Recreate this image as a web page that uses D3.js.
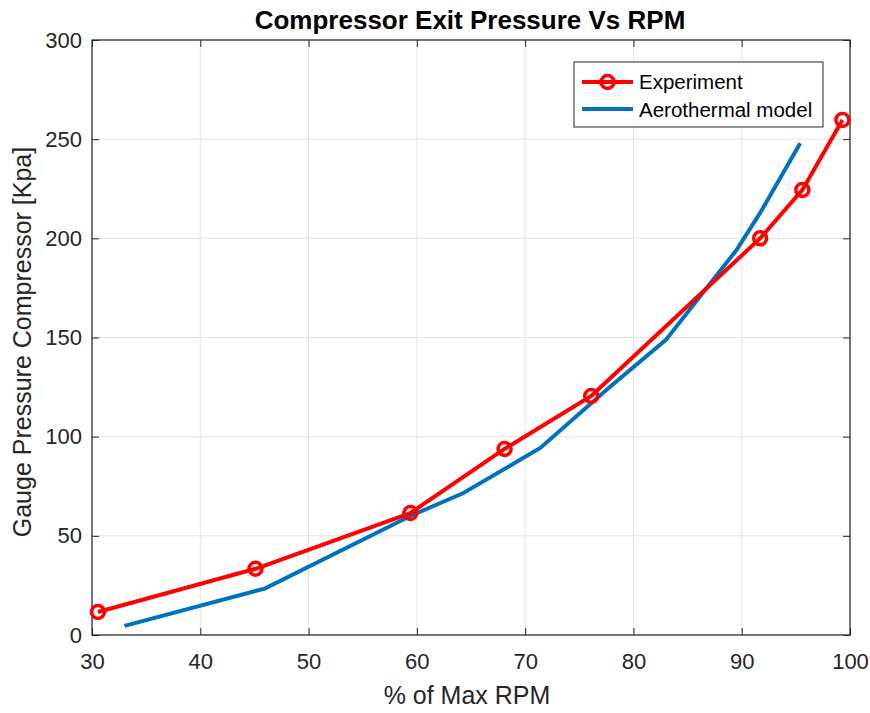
<!DOCTYPE html>
<html>
<head>
<meta charset="utf-8">
<script src="https://cdn.jsdelivr.net/npm/d3@7"></script>
<style>
body { margin: 0; background: #fff; }
text { font-family: "Liberation Sans", Arial, sans-serif; }
</style>
</head>
<body>
<div id="chart"></div>
<script>
// experiment points
const expRpm = [30.55, 45.1, 59.4, 68.1, 76.1, 91.7, 95.6, 99.3];
const expKpa = [11.6, 33.4, 61.5, 93.8, 120.5, 200.0, 224.4, 259.7];
// aerothermal model
const modRpm = [33.0, 46.0, 59.4, 64.3, 71.4, 77.6, 83.0, 89.5, 91.7, 95.4];
const modKpa = [4.6, 23.5, 60.0, 71.6, 94.3, 124.0, 148.8, 194.0, 212.8, 248.0];

const xTicks = [30, 40, 50, 60, 70, 80, 90, 100];
const yTicks = [0, 50, 100, 150, 200, 250, 300];

const margin = {top: 40, left: 92};
const w = 758, h = 595;

const svg = d3.select("#chart").append("svg")
  .attr("width", 870).attr("height", 713);
const g = svg.append("g")
  .attr("transform", `translate(${margin.left},${margin.top})`);

const x = d3.scaleLinear().domain([30, 100]).range([0, w]);
const y = d3.scaleLinear().domain([0, 300]).range([h, 0]);

// grid
g.append("g").selectAll("line").data(xTicks).join("line")
  .attr("x1", d => x(d)).attr("x2", d => x(d))
  .attr("y1", 0).attr("y2", h)
  .attr("stroke", "#e3e3e3").attr("stroke-width", 1);
g.append("g").selectAll("line").data(yTicks).join("line")
  .attr("y1", d => y(d)).attr("y2", d => y(d))
  .attr("x1", 0).attr("x2", w)
  .attr("stroke", "#e3e3e3").attr("stroke-width", 1);

// axes, ticks inward
const axColor = "#262626";
function styleAxis(sel) {
  sel.select(".domain").remove();
  sel.selectAll(".tick line").attr("stroke", axColor);
  sel.selectAll(".tick text").attr("fill", axColor)
    .style("font-size", "22px");
}
g.append("g").attr("transform", `translate(0,${h})`)
  .call(d3.axisBottom(x).tickValues(xTicks).tickSizeInner(-7).tickPadding(18))
  .call(styleAxis);
g.append("g")
  .call(d3.axisLeft(y).tickValues(yTicks).tickSizeInner(-7).tickPadding(10))
  .call(styleAxis);
g.append("g")
  .call(d3.axisTop(x).tickValues(xTicks).tickSizeInner(-7).tickFormat(""))
  .call(styleAxis);
g.append("g").attr("transform", `translate(${w},0)`)
  .call(d3.axisRight(y).tickValues(yTicks).tickSizeInner(-7).tickFormat(""))
  .call(styleAxis);
g.append("rect").attr("width", w).attr("height", h)
  .attr("fill", "none").attr("stroke", axColor).attr("stroke-width", 1.2);

// lines
const expData = expRpm.map((r, i) => ({x: r, y: expKpa[i]}));
const modData = modRpm.map((r, i) => ({x: r, y: modKpa[i]}));
const line = d3.line().x(d => x(d.x)).y(d => y(d.y));

g.append("path").datum(modData)
  .attr("fill", "none").attr("stroke", "#0072BD").attr("stroke-width", 4)
  .attr("d", line);
g.append("path").datum(expData)
  .attr("fill", "none").attr("stroke", "#FF0000").attr("stroke-width", 4)
  .attr("stroke-linejoin", "round")
  .attr("d", line);
g.append("g").selectAll("circle").data(expData).join("circle")
  .attr("cx", d => x(d.x)).attr("cy", d => y(d.y)).attr("r", 6.5)
  .attr("fill", "none").attr("stroke", "#FF0000").attr("stroke-width", 3.5);

// title and labels
svg.append("text").attr("x", 470).attr("y", 29)
  .attr("text-anchor", "middle").attr("font-weight", "bold")
  .style("font-size", "26px").attr("fill", "#000")
  .text("Compressor Exit Pressure Vs RPM");
svg.append("text").attr("x", 467).attr("y", 704)
  .attr("text-anchor", "middle").style("font-size", "25px").attr("fill", axColor)
  .text("% of Max RPM");
svg.append("text").attr("transform", "translate(31,342) rotate(-90)")
  .attr("text-anchor", "middle").style("font-size", "25px").attr("fill", axColor)
  .text("Gauge Pressure Compressor [Kpa]");

// legend
const lg = svg.append("g").attr("transform", "translate(574,62)");
lg.append("rect").attr("width", 249).attr("height", 65)
  .attr("fill", "#fff").attr("stroke", axColor).attr("stroke-width", 1);
lg.append("line").attr("x1", 8).attr("x2", 59).attr("y1", 20).attr("y2", 20)
  .attr("stroke", "#FF0000").attr("stroke-width", 4);
lg.append("circle").attr("cx", 33.5).attr("cy", 20).attr("r", 6.5)
  .attr("fill", "none").attr("stroke", "#FF0000").attr("stroke-width", 3.5);
lg.append("line").attr("x1", 8).attr("x2", 59).attr("y1", 47).attr("y2", 47)
  .attr("stroke", "#0072BD").attr("stroke-width", 4);
lg.append("text").attr("x", 65).attr("y", 27).style("font-size", "20.5px")
  .attr("fill", "#000").text("Experiment");
lg.append("text").attr("x", 65).attr("y", 55).style("font-size", "20.5px")
  .attr("fill", "#000").text("Aerothermal model");
</script>
</body>
</html>
